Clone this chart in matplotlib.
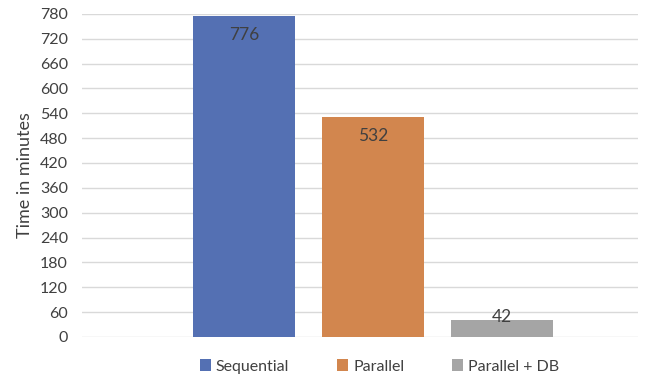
import matplotlib.pyplot as plt
import numpy as np

# run times for each strategy
series = ['Sequential', 'Parallel', 'Parallel + DB']
minutes = [776, 532, 42]
colors = ['#5470B3', '#D2864E', '#A5A5A5']
yticks = list(range(0, 781, 60))

plt.rcParams['font.family'] = ['Lato', 'DejaVu Sans']
text_col = '#404040'

fig = plt.figure(figsize=(6.54, 3.76), dpi=100)
ax = fig.add_axes([0.125, 0.104, 0.851, 0.859])

pos = np.arange(len(series)) - 1
bars = ax.bar(pos, minutes, width=0.79, color=colors, label=series, zorder=3)

for b, v in zip(bars, minutes):
    off = -14 if v > 100 else 1.5
    ax.annotate(str(v), (b.get_x() + b.get_width() / 2, v),
                xytext=(0, off), textcoords='offset points',
                ha='center', va='center', fontsize=12.5, color=text_col, zorder=4)

ax.set_ylim(0, 780)
ax.set_yticks(yticks)
ax.set_xlim(-2.256, 2.054)
ax.set_xticks([])
ax.yaxis.grid(True, color='#D9D9D9', linewidth=1, zorder=0)
for s in ax.spines.values():
    s.set_visible(False)
ax.tick_params(axis='y', length=0, labelsize=11.5, labelcolor=text_col, pad=10)
ax.set_ylabel('Time in minutes', fontsize=13, color=text_col, labelpad=5)

ax.legend(loc='upper center', bbox_to_anchor=(0.535, -0.025), ncol=3,
          frameon=False, fontsize=11.5, handlelength=0.7, handleheight=0.7,
          handletextpad=0.3, columnspacing=3.0, labelcolor=text_col)

fig.savefig('out.png', dpi=100)
